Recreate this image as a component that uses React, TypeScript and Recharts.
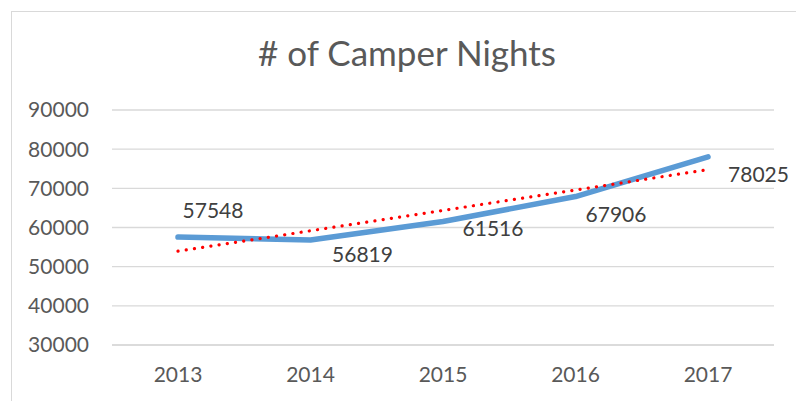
import React from 'react';
import { LineChart, Line, XAxis, YAxis, CartesianGrid } from 'recharts';

const years = ['2013', '2014', '2015', '2016', '2017'];
const camperNights = [57548, 56819, 61516, 67906, 78025];
const trendValues = [53955, 59159, 64363, 69567, 74771];
const yTicks = [30000, 40000, 50000, 60000, 70000, 80000, 90000];
const chartTitle = '# of Camper Nights';

// label placement offsets (layout, not data)
const LABEL_OFFSETS = [
  { dx: 35, dy: -19 },
  { dx: 52, dy: 22 },
  { dx: 50, dy: 14.5 },
  { dx: 40.5, dy: 25.5 },
  { dx: 50.5, dy: 25 },
];

const data = years.map((y, i) => ({ year: y, nights: camperNights[i], trend: trendValues[i] }));

const FONT = "Lato, 'Open Sans', sans-serif";

const DataLabel = (props: any) => {
  const { x, y, value, index } = props;
  const off = LABEL_OFFSETS[index] || { dx: 0, dy: -10 };
  return (
    <text x={x + off.dx} y={y + off.dy} textAnchor="middle" fontFamily={FONT} fontSize={21} fill="#404040">
      {value}
    </text>
  );
};

export default function App() {
  return (
    <div style={{ position: 'absolute', left: 0, top: 0, width: 796, height: 401, overflow: 'hidden', background: '#fff' }}>
      <div style={{ position: 'absolute', left: 11, top: 11, width: 900, height: 500, borderLeft: '1px solid #d9d9d9', borderTop: '1px solid #d9d9d9' }} />
      <LineChart width={796} height={401} data={data} margin={{ top: 110, right: 22, left: 0, bottom: 0 }}>
        <CartesianGrid vertical={false} stroke="#d9d9d9" strokeWidth={1.3} />
        <XAxis
          dataKey="year"
          height={56}
          padding={{ left: 66, right: 66 }}
          axisLine={{ stroke: '#d9d9d9', strokeWidth: 1.3 }}
          tickLine={false}
          tickSize={0}
          tickMargin={22}
          tick={{ fill: '#595959', fontSize: 21, fontFamily: FONT }}
        />
        <YAxis
          width={112}
          domain={[30000, 90000]}
          ticks={yTicks}
          axisLine={false}
          tickLine={false}
          tickSize={0}
          tickMargin={23}
          tick={{ fill: '#595959', fontSize: 21, fontFamily: FONT }}
        />
        <Line
          type="linear"
          dataKey="nights"
          stroke="#5B9BD5"
          strokeWidth={5.5}
          strokeLinecap="round"
          strokeLinejoin="round"
          dot={false}
          activeDot={false}
          isAnimationActive={false}
          label={<DataLabel />}
        />
        <Line
          type="linear"
          dataKey="trend"
          stroke="#ff0000"
          strokeWidth={3.2}
          strokeDasharray="0.1 8.2"
          strokeLinecap="round"
          dot={false}
          activeDot={false}
          isAnimationActive={false}
        />
      </LineChart>
      <svg width={796} height={401} style={{ position: 'absolute', left: 0, top: 0, pointerEvents: 'none' }}>
        <text x={407} y={66} textAnchor="middle" fontFamily={FONT} fontSize={35} fill="#595959">
          {chartTitle}
        </text>
      </svg>
    </div>
  );
}
